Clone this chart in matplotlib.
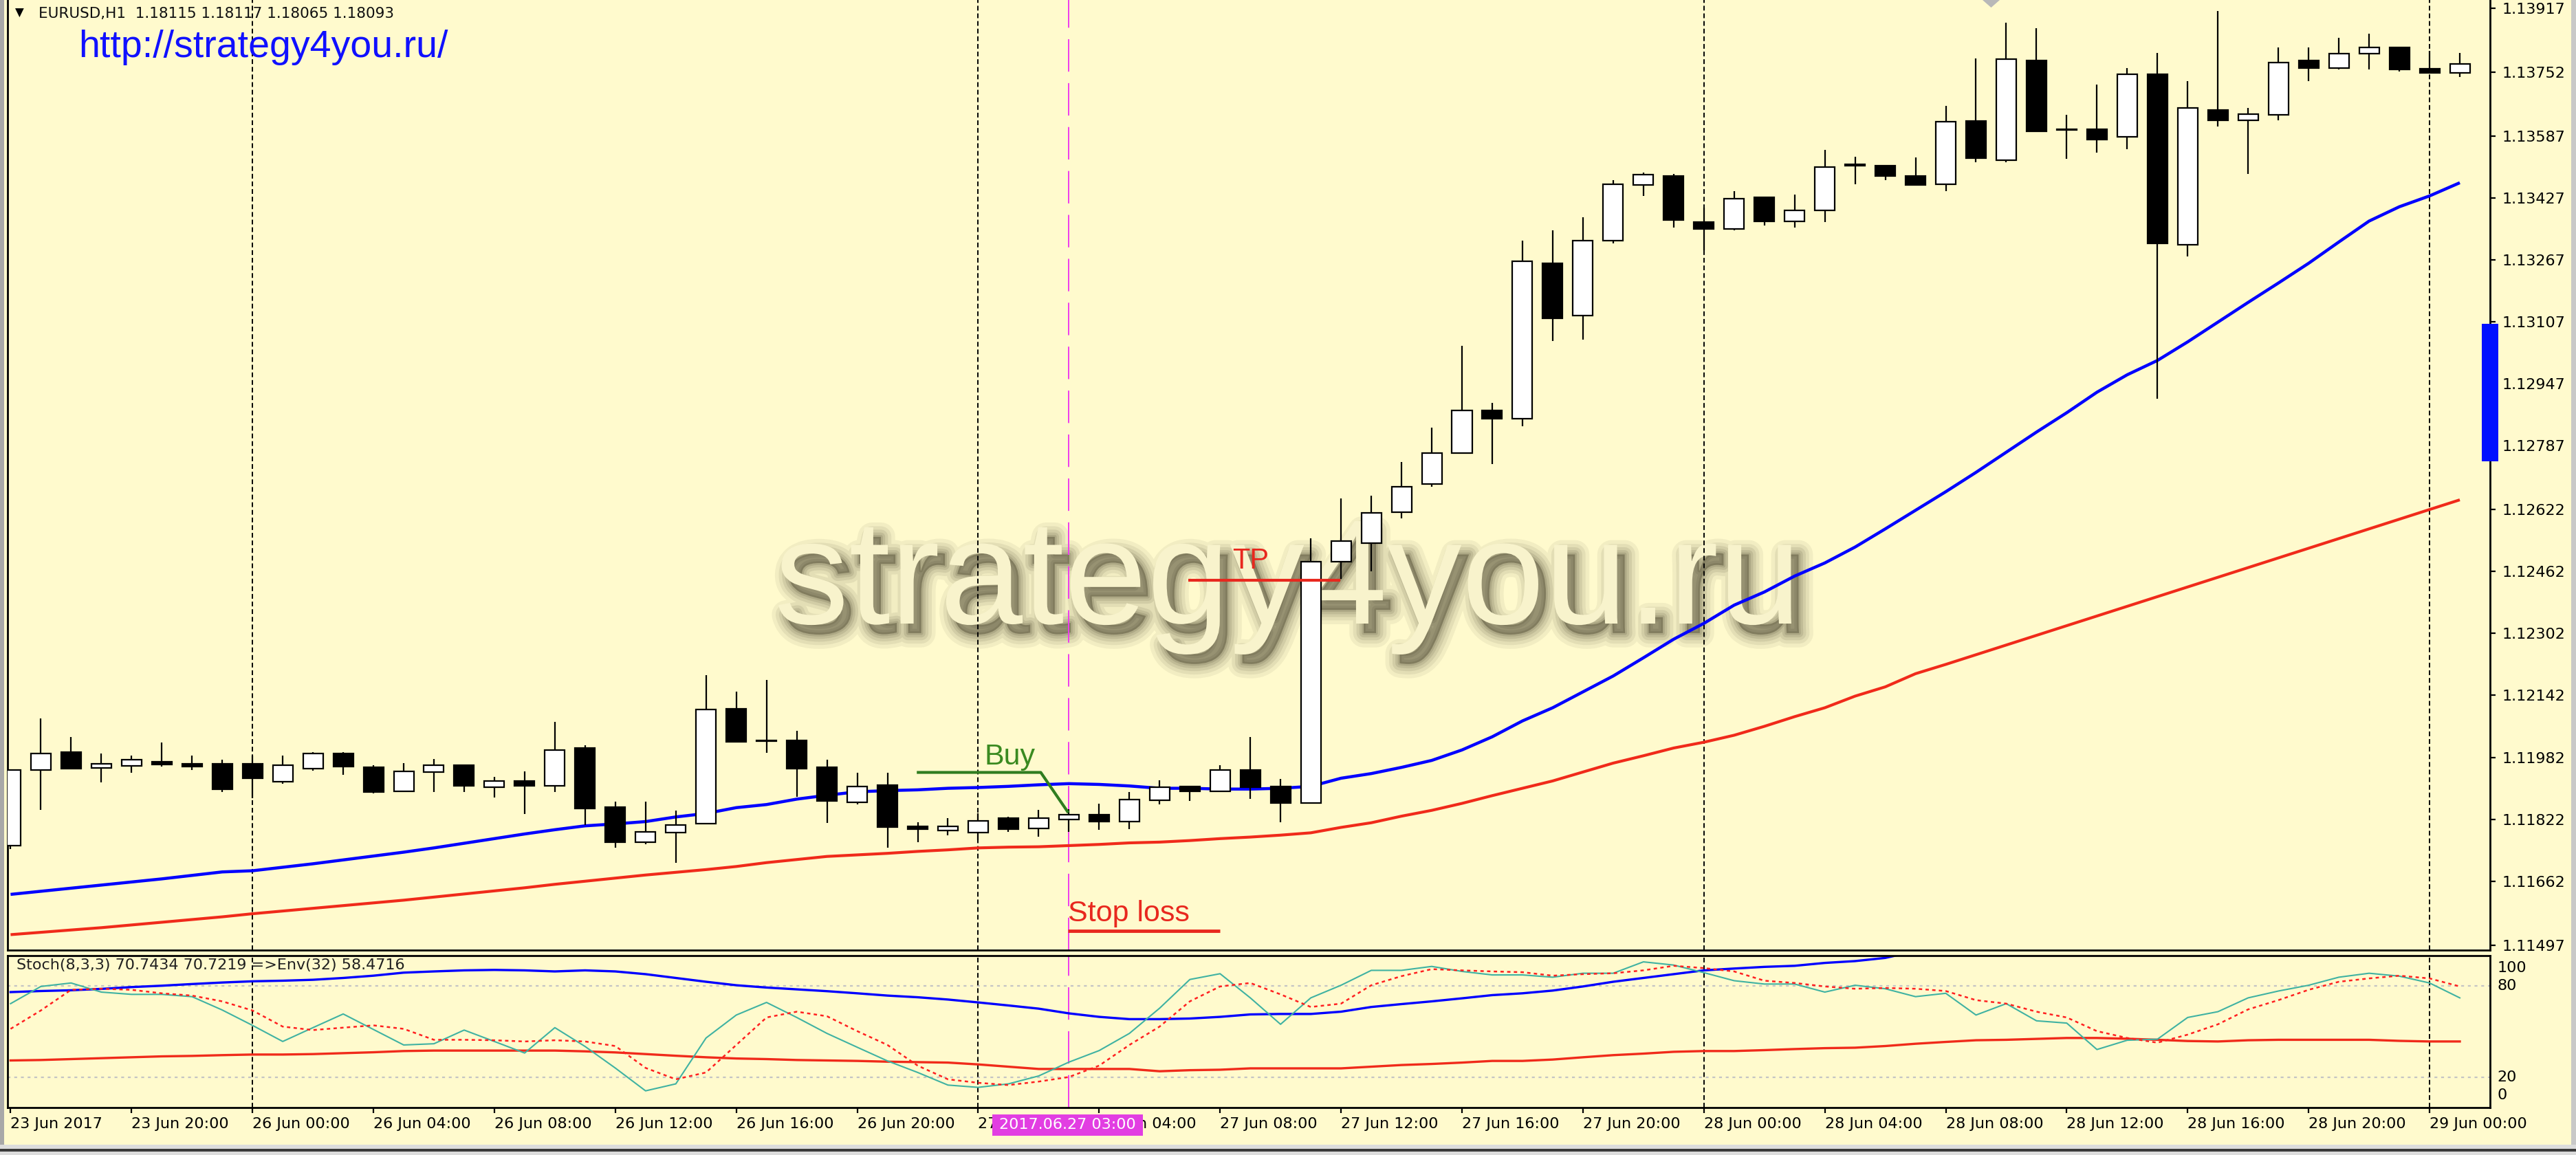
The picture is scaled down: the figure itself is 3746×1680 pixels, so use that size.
import numpy as np
import matplotlib
matplotlib.use('Agg')
import matplotlib.pyplot as plt
from matplotlib import patheffects as pe
from matplotlib.patches import Rectangle, Polygon

# ---------------- data ----------------
opens = [
    1.11754, 1.11949, 1.11996, 1.11954, 1.11959, 1.11971, 1.11966, 1.11966, 1.11966, 1.11919,
    1.11953, 1.11992, 1.11956, 1.11894, 1.11944, 1.11961, 1.11904, 1.11921, 1.11909, 1.12006,
    1.11853, 1.11762, 1.11788, 1.11810, 1.12108, 1.12025, 1.12025, 1.11956, 1.11865, 1.11911,
    1.11804, 1.11793, 1.11788, 1.11825, 1.11798, 1.11822, 1.11834, 1.11816, 1.11871, 1.11906,
    1.11895, 1.11950, 1.11906, 1.11864, 1.12487, 1.12536, 1.12616, 1.12688, 1.12767, 1.12878,
    1.12857, 1.13258, 1.13123, 1.13316, 1.13460, 1.13483, 1.13364, 1.13347, 1.13428, 1.13367,
    1.13394, 1.13510, 1.13510, 1.13484, 1.13462, 1.13625, 1.13525, 1.13782, 1.13605, 1.13605,
    1.13585, 1.13746, 1.13306, 1.13654, 1.13628, 1.13642, 1.13782, 1.13763, 1.13799, 1.13816,
    1.13761, 1.13750]
highs = [
    1.11949, 1.12083, 1.12035, 1.11992, 1.11987, 1.12020, 1.11987, 1.11976, 1.11986, 1.11987,
    1.11996, 1.11996, 1.11961, 1.11967, 1.11977, 1.11961, 1.11931, 1.11946, 1.12074, 1.12014,
    1.11868, 1.11868, 1.11844, 1.12195, 1.12152, 1.12181, 1.12050, 1.11976, 1.11943, 1.11943,
    1.11814, 1.11825, 1.11838, 1.11829, 1.11846, 1.11848, 1.11863, 1.11892, 1.11922, 1.11906,
    1.11961, 1.12035, 1.11926, 1.12548, 1.12650, 1.12658, 1.12745, 1.12834, 1.13044, 1.12898,
    1.13316, 1.13344, 1.13377, 1.13472, 1.13492, 1.13489, 1.13401, 1.13445, 1.13428, 1.13435,
    1.13551, 1.13534, 1.13510, 1.13532, 1.13665, 1.13787, 1.13879, 1.13865, 1.13641, 1.13719,
    1.13763, 1.13802, 1.13729, 1.13909, 1.13659, 1.13816, 1.13816, 1.13841, 1.13851, 1.13816,
    1.13806, 1.13802]
lows = [
    1.11745, 1.11846, 1.11953, 1.11918, 1.11943, 1.11958, 1.11949, 1.11893, 1.11877, 1.11913,
    1.11947, 1.11937, 1.11889, 1.11894, 1.11893, 1.11893, 1.11878, 1.11835, 1.11893, 1.11807,
    1.11748, 1.11758, 1.11709, 1.11810, 1.12022, 1.11993, 1.11880, 1.11812, 1.11860, 1.11748,
    1.11762, 1.11781, 1.11768, 1.11790, 1.11777, 1.11790, 1.11795, 1.11796, 1.11860, 1.11869,
    1.11895, 1.11875, 1.11814, 1.11862, 1.12443, 1.12463, 1.12599, 1.12681, 1.12767, 1.12739,
    1.12837, 1.13057, 1.13061, 1.13310, 1.13432, 1.13350, 1.13292, 1.13344, 1.13356, 1.13351,
    1.13364, 1.13462, 1.13472, 1.13461, 1.13445, 1.13519, 1.13519, 1.13598, 1.13528, 1.13544,
    1.13553, 1.12908, 1.13275, 1.13612, 1.13489, 1.13627, 1.13729, 1.13758, 1.13758, 1.13753,
    1.13750, 1.13739]
closes = [
    1.11949, 1.11992, 1.11953, 1.11965, 1.11976, 1.11963, 1.11958, 1.11899, 1.11928, 1.11961,
    1.11992, 1.11958, 1.11893, 1.11946, 1.11961, 1.11909, 1.11921, 1.11909, 1.12000, 1.11850,
    1.11762, 1.11789, 1.11808, 1.12106, 1.12022, 1.12023, 1.11953, 1.11870, 1.11906, 1.11801,
    1.11797, 1.11803, 1.11818, 1.11797, 1.11825, 1.11833, 1.11816, 1.11872, 1.11904, 1.11894,
    1.11949, 1.11904, 1.11864, 1.12487, 1.12541, 1.12613, 1.12681, 1.12767, 1.12878, 1.12857,
    1.13263, 1.13116, 1.13316, 1.13462, 1.13487, 1.13370, 1.13347, 1.13424, 1.13367, 1.13394,
    1.13506, 1.13513, 1.13483, 1.13461, 1.13624, 1.13529, 1.13785, 1.13598, 1.13603, 1.13578,
    1.13746, 1.13309, 1.13659, 1.13627, 1.13644, 1.13776, 1.13763, 1.13800, 1.13816, 1.13758,
    1.13750, 1.13772]

ma_blue = [
    1.11628, 1.11636, 1.11644, 1.11652, 1.11660, 1.11668, 1.11677, 1.11686, 1.11689, 1.11698,
    1.11707, 1.11717, 1.11727, 1.11737, 1.11748, 1.11760, 1.11772, 1.11784, 1.11795, 1.11805,
    1.11810, 1.11816, 1.11828, 1.11837, 1.11852, 1.11860, 1.11874, 1.11884, 1.11893, 1.11896,
    1.11898, 1.11902, 1.11904, 1.11907, 1.11911, 1.11914, 1.11912, 1.11908, 1.11902, 1.11902,
    1.11900, 1.11900, 1.11902, 1.11907, 1.11928, 1.11940, 1.11956, 1.11974, 1.12001, 1.12035,
    1.12076, 1.12110, 1.12151, 1.12192, 1.12239, 1.12287, 1.12328, 1.12375, 1.12409, 1.12450,
    1.12484, 1.12525, 1.12572, 1.12620, 1.12668, 1.12718, 1.12770, 1.12822, 1.12872, 1.12925,
    1.12970, 1.13007, 1.13055, 1.13106, 1.13157, 1.13207, 1.13258, 1.13313, 1.13367, 1.13404,
    1.13432, 1.13466]
ma_red = [
    1.11524, 1.11530, 1.11536, 1.11542, 1.11549, 1.11556, 1.11563, 1.11570, 1.11578, 1.11585,
    1.11592, 1.11599, 1.11606, 1.11613, 1.11621, 1.11629, 1.11637, 1.11645, 1.11654, 1.11662,
    1.11670, 1.11678, 1.11685, 1.11692, 1.11700, 1.11710, 1.11718, 1.11726, 1.11730, 1.11734,
    1.11739, 1.11743, 1.11748, 1.11750, 1.11751, 1.11754, 1.11757, 1.11761, 1.11763, 1.11767,
    1.11772, 1.11776, 1.11781, 1.11787, 1.11801, 1.11813, 1.11830, 1.11845, 1.11863, 1.11883,
    1.11902, 1.11921, 1.11944, 1.11967, 1.11986, 1.12006, 1.12021, 1.12039, 1.12062, 1.12087,
    1.12110, 1.12140, 1.12164, 1.12198, 1.12222, 1.12247, 1.12272, 1.12297, 1.12322, 1.12347,
    1.12372, 1.12397, 1.12422, 1.12447, 1.12472, 1.12497, 1.12522, 1.12547, 1.12572, 1.12597,
    1.12622, 1.12647]

stoch_k = [
    68.4, 79.7, 82.0, 76.0, 74.5, 74.5, 73.0, 64.2, 54.1, 43.5,
    52.6, 61.6, 51.4, 41.2, 42.0, 51.0, 43.5, 35.9, 52.6, 40.2,
    26.0, 11.0, 15.6, 45.8, 60.9, 69.2, 59.3, 48.8, 39.7, 30.7,
    23.1, 14.8, 13.3, 15.6, 20.8, 29.9, 37.5, 48.8, 65.4, 84.3,
    88.1, 72.2, 54.8, 72.2, 80.5, 90.3, 90.3, 92.9, 89.6, 87.3,
    87.3, 85.8, 88.4, 88.4, 95.9, 93.8, 88.8, 83.5, 81.3, 81.3,
    76.0, 80.5, 78.2, 73.0, 75.2, 60.9, 68.4, 57.1, 55.6, 38.2,
    44.3, 45.0, 59.3, 63.1, 72.2, 76.7, 80.5, 85.8, 88.4, 86.5,
    82.0, 72.2]
stoch_d = [
    51.8, 63.9, 77.5, 78.2, 77.5, 75.2, 73.7, 69.9, 63.9, 53.3,
    51.0, 52.6, 54.1, 51.8, 44.6, 44.6, 44.3, 43.5, 44.3, 43.5,
    40.5, 26.1, 18.6, 23.1, 41.2, 59.3, 63.1, 60.1, 50.3, 41.2,
    27.6, 18.6, 16.3, 14.8, 17.1, 20.1, 27.6, 41.2, 53.3, 69.9,
    79.7, 82.0, 74.5, 66.2, 68.4, 80.5, 86.5, 91.1, 90.3, 89.6,
    89.1, 86.8, 87.8, 88.4, 90.3, 93.3, 91.8, 89.6, 83.5, 82.0,
    79.7, 78.2, 78.7, 78.2, 76.7, 70.7, 68.4, 63.1, 59.3, 50.3,
    45.8, 42.7, 48.0, 54.8, 64.6, 70.7, 77.5, 82.8, 85.0, 86.8,
    85.0, 79.7]
env_up = [
    76.0, 76.7, 77.2, 78.1, 79.3, 80.2, 81.3, 82.3, 83.1, 83.5,
    84.1, 85.3, 86.8, 88.8, 89.6, 90.3, 90.6, 90.3, 89.6, 90.3,
    89.6, 87.8, 85.3, 82.8, 80.5, 79.0, 77.8, 76.6, 75.2, 73.7,
    72.6, 71.1, 69.2, 67.2, 65.1, 62.0, 59.7, 58.2, 58.2, 58.6,
    59.7, 61.3, 61.6, 61.6, 63.1, 66.2, 68.1, 69.9, 71.9, 74.0,
    75.2, 77.0, 79.7, 82.8, 85.3, 87.8, 90.3, 91.5, 92.6, 93.3,
    95.2, 96.4, 98.5, 103.0] + [np.nan] * 18
env_lo = [
    31.0, 31.3, 31.9, 32.5, 33.1, 33.7, 34.0, 34.5, 34.9, 34.9,
    35.2, 35.8, 36.4, 37.2, 37.5, 37.5, 37.5, 37.5, 37.5, 37.0,
    36.3, 35.2, 34.1, 33.1, 32.3, 31.9, 31.3, 31.0, 30.7, 30.2,
    29.9, 29.6, 28.4, 26.9, 25.4, 25.4, 25.4, 25.4, 23.9, 24.6,
    24.9, 25.8, 25.8, 25.8, 25.8, 26.9, 28.0, 28.7, 29.6, 30.7,
    30.7, 31.6, 33.1, 34.5, 35.5, 36.7, 37.2, 37.2, 37.8, 38.5,
    39.1, 39.4, 40.5, 42.0, 43.2, 44.3, 44.6, 45.2, 45.8, 45.8,
    45.3, 44.6, 43.8, 43.5, 44.3, 44.6, 44.6, 44.6, 44.6, 43.9,
    43.5, 43.5]

time_labels = ["23 Jun 2017", "23 Jun 20:00", "26 Jun 00:00", "26 Jun 04:00", "26 Jun 08:00",
               "26 Jun 12:00", "26 Jun 16:00", "26 Jun 20:00", "27 Jun 00:00", "27 Jun 04:00",
               "27 Jun 08:00", "27 Jun 12:00", "27 Jun 16:00", "27 Jun 20:00", "28 Jun 00:00",
               "28 Jun 04:00", "28 Jun 08:00", "28 Jun 12:00", "28 Jun 16:00", "28 Jun 20:00",
               "29 Jun 00:00"]
time_label_bars = list(range(0, 81, 4))
day_separator_bars = [8, 32, 56, 80]
signal_bar = 35
signal_label = "2017.06.27 03:00"

price_ticks = [1.13917, 1.13752, 1.13587, 1.13427, 1.13267, 1.13107, 1.12947, 1.12787,
               1.12622, 1.12462, 1.12302, 1.12142, 1.11982, 1.11822, 1.11662, 1.11497]
stoch_levels = [20, 80]
stoch_axis_labels = ["100", "80", "20", "0"]

buy_line_x = [29.97, 34.07, 34.98]
buy_line_y = [1.11943, 1.11943, 1.11839]
buy_text_pos = (32.2, 1.11964)
tp_line_x = [38.96, 43.98]
tp_price = 1.12439
tp_text_pos = (40.4, 1.12470)
sl_line_x = [34.98, 40.0]
sl_price = 1.11533
sl_text_pos = (34.98, 1.11559)
range_marker = (1.12747, 1.13102)

header_text = "EURUSD,H1  1.18115 1.18117 1.18065 1.18093"
url_text = "http://strategy4you.ru/"
watermark = "strategy4you.ru"
stoch_title = "Stoch(8,3,3) 70.7434 70.7219 =>Env(32) 58.4716"

# ---------------- figure ----------------
W, H, DPI = 3746, 1680, 100
plt.rcParams['lines.scale_dashes'] = False
plt.rcParams['font.family'] = ['DejaVu Sans']
BG = '#fffacd'

fig = plt.figure(figsize=(W / DPI, H / DPI), dpi=DPI, facecolor=BG)


def fx(X):
    return X / W


def fy(Y):
    return 1 - Y / H


L, R = 11, 3621
ax = fig.add_axes([fx(L), fy(1382), fx(R) - fx(L), fy(0) - fy(1382)], facecolor=BG)
axs = fig.add_axes([fx(L), fy(1611), fx(R) - fx(L), fy(1390) - fy(1611)], facecolor=BG)

n = len(opens)
x = np.arange(n)
o = np.array(opens); c = np.array(closes); hi = np.array(highs); lo = np.array(lows)

ax.set_xlim(-0.1, 82.0)
ax.set_ylim(1.11484, 1.13938)
axs.set_xlim(-0.1, 82.0)
axs.set_ylim(0, 100)

# watermark (below candles)
shadow = []
for w_, a_ in [(30, 0.06), (22, 0.07), (15, 0.09), (9, 0.10), (4, 0.12)]:
    shadow.append(pe.Stroke(offset=(8, -10), linewidth=w_, foreground='#2b2612', alpha=a_))
shadow.append(pe.SimplePatchShadow(offset=(8, -10), shadow_rgbFace='#2b2612', alpha=0.38))
shadow.append(pe.Normal())
ax.text(fx(1126), fy(907), watermark, transform=fig.transFigure, fontsize=156,
        family='Liberation Sans', color='#f8f3cc', ha='left', va='baseline',
        zorder=1.2, path_effects=shadow)

# separators
for b in day_separator_bars:
    ax.axvline(b, color='black', lw=1.4, dashes=(5, 3), zorder=1.5)
    axs.axvline(b, color='black', lw=1.4, dashes=(5, 3), zorder=1.5)
ax.axvline(signal_bar, color='#ee3cee', lw=1.4, dashes=(34, 12), zorder=1.6)
axs.axvline(signal_bar, color='#ee3cee', lw=1.4, dashes=(34, 12), zorder=1.6)

# moving averages
ax.plot(x, ma_red, color='#f02a1a', lw=3.0, zorder=3, solid_capstyle='butt')
ax.plot(x, ma_blue, color='#0000ff', lw=3.2, zorder=3, solid_capstyle='butt')

# candles
ax.vlines(x, lo, hi, color='black', lw=1.6, zorder=4)
body_colors = np.where(c >= o, 'white', 'black')
ax.bar(x, c - o, bottom=o, width=0.66, color=body_colors, edgecolor='black',
       linewidth=1.6, zorder=5)

# annotations
ax.plot(buy_line_x, buy_line_y, color='#2f7d1f', lw=3.0, zorder=6, solid_capstyle='butt')
ax.text(buy_text_pos[0], buy_text_pos[1], "Buy", color='#3a8a20', fontsize=31,
        family='Liberation Sans', ha='left', va='baseline', zorder=6)
ax.plot(tp_line_x, [tp_price, tp_price], color='#e8281e', lw=3.0, zorder=6, solid_capstyle='butt')
ax.text(tp_text_pos[0], tp_text_pos[1], "TP", color='#e8281e', fontsize=30,
        family='Liberation Sans', ha='left', va='baseline', zorder=6)
ax.plot(sl_line_x, [sl_price, sl_price], color='#e8281e', lw=3.5, zorder=6, solid_capstyle='butt')
ax.text(sl_text_pos[0], sl_text_pos[1], "Stop loss", color='#e8281e', fontsize=31,
        family='Liberation Sans', ha='left', va='baseline', zorder=6)

# main axis styling
for s in ['left', 'right', 'bottom']:
    ax.spines[s].set_linewidth(2.0)
    ax.spines[s].set_color('black')
ax.spines['top'].set_visible(False)
ax.set_xticks([])
ax.yaxis.tick_right()
ax.set_yticks(price_ticks)
ax.set_yticklabels([f"{p:.5f}" for p in price_ticks])
ax.tick_params(axis='y', which='both', direction='out', length=6, width=1.6,
               pad=7, labelsize=16, colors='black')
ax.tick_params(axis='y', which='both', left=False)

# range marker on the price axis
ax.add_patch(Rectangle((0.9967, range_marker[0]), 0.0066, range_marker[1] - range_marker[0],
                       transform=ax.get_yaxis_transform(), facecolor='#0010ff',
                       edgecolor='none', clip_on=False, zorder=7))

# shift marker
fig.patches.append(Polygon([[fx(2883), fy(0)], [fx(2908), fy(0)], [fx(2895.5), fy(11)]],
                           closed=True, transform=fig.transFigure, facecolor='#b8b8b8',
                           edgecolor='none'))

# ---------------- stochastic panel ----------------
for lv in stoch_levels:
    axs.axhline(lv, color='#c4c4c4', lw=1.6, dashes=(3, 4), zorder=1)
axs.plot(x, env_lo, color='#f02a1a', lw=2.4, zorder=2)
axs.plot(x, env_up, color='#0000ff', lw=2.4, zorder=2)
axs.plot(x, stoch_k, color='#3fb2a2', lw=1.5, zorder=3)
axs.plot(x, stoch_d, color='#ff2020', lw=1.8, dashes=(3.5, 3.5), zorder=4)

for s in axs.spines.values():
    s.set_linewidth(2.0)
    s.set_color('black')
axs.set_yticks([])
axs.set_xticks(time_label_bars)
axs.set_xticklabels(time_labels)
axs.tick_params(axis='x', direction='out', length=6, width=1.6, pad=4,
                labelsize=16, colors='black')
for lbl in axs.get_xticklabels():
    lbl.set_horizontalalignment('left')

axs.text(0.0035, 0.935, stoch_title, transform=axs.transAxes, fontsize=16,
         ha='left', va='center', color='#202020', zorder=6)

# stochastic scale labels on the right
for txt, yv in zip(stoch_axis_labels, [91.8, 80, 20, 8.2]):
    axs.text(1.003, yv, txt, transform=axs.get_yaxis_transform(), fontsize=16,
             ha='left', va='center', color='black', clip_on=False)

# signal time box on the time axis
fig.patches.append(Rectangle((fx(1443), fy(1652)), fx(1662) - fx(1443), fy(1621) - fy(1652),
                             transform=fig.transFigure, facecolor='#e23ee2',
                             edgecolor='none', zorder=10))
fig.text(fx(1552.5), fy(1636.5), signal_label, color='white', fontsize=16,
         ha='center', va='center', zorder=11)

# header texts
fig.text(fx(22), fy(19), "\u25bc", fontsize=12, ha='left', va='center', color='black')
fig.text(fx(56), fy(19.5), header_text, fontsize=15.5, ha='left', va='center', color='#101010')
fig.text(fx(114), fy(83), url_text, fontsize=40, family='Liberation Sans',
         ha='left', va='baseline', color='#1010ff')

# window chrome
fig.patches.append(Rectangle((0, 0), fx(6), 1, transform=fig.transFigure,
                             facecolor='#a8a8a8', edgecolor='none', zorder=-1))
fig.patches.append(Rectangle((fx(3739), 0), 1 - fx(3739), 1, transform=fig.transFigure,
                             facecolor='#c8c8c8', edgecolor='none', zorder=-1))
fig.patches.append(Rectangle((0, 0), 1, fy(1665), transform=fig.transFigure,
                             facecolor='#dcdcdc', edgecolor='none', zorder=-1))
fig.patches.append(Rectangle((0, fy(1675)), 1, fy(1671) - fy(1675), transform=fig.transFigure,
                             facecolor='#3a3a3a', edgecolor='none', zorder=-1))

fig.savefig('out.png', dpi=DPI, facecolor=BG)
